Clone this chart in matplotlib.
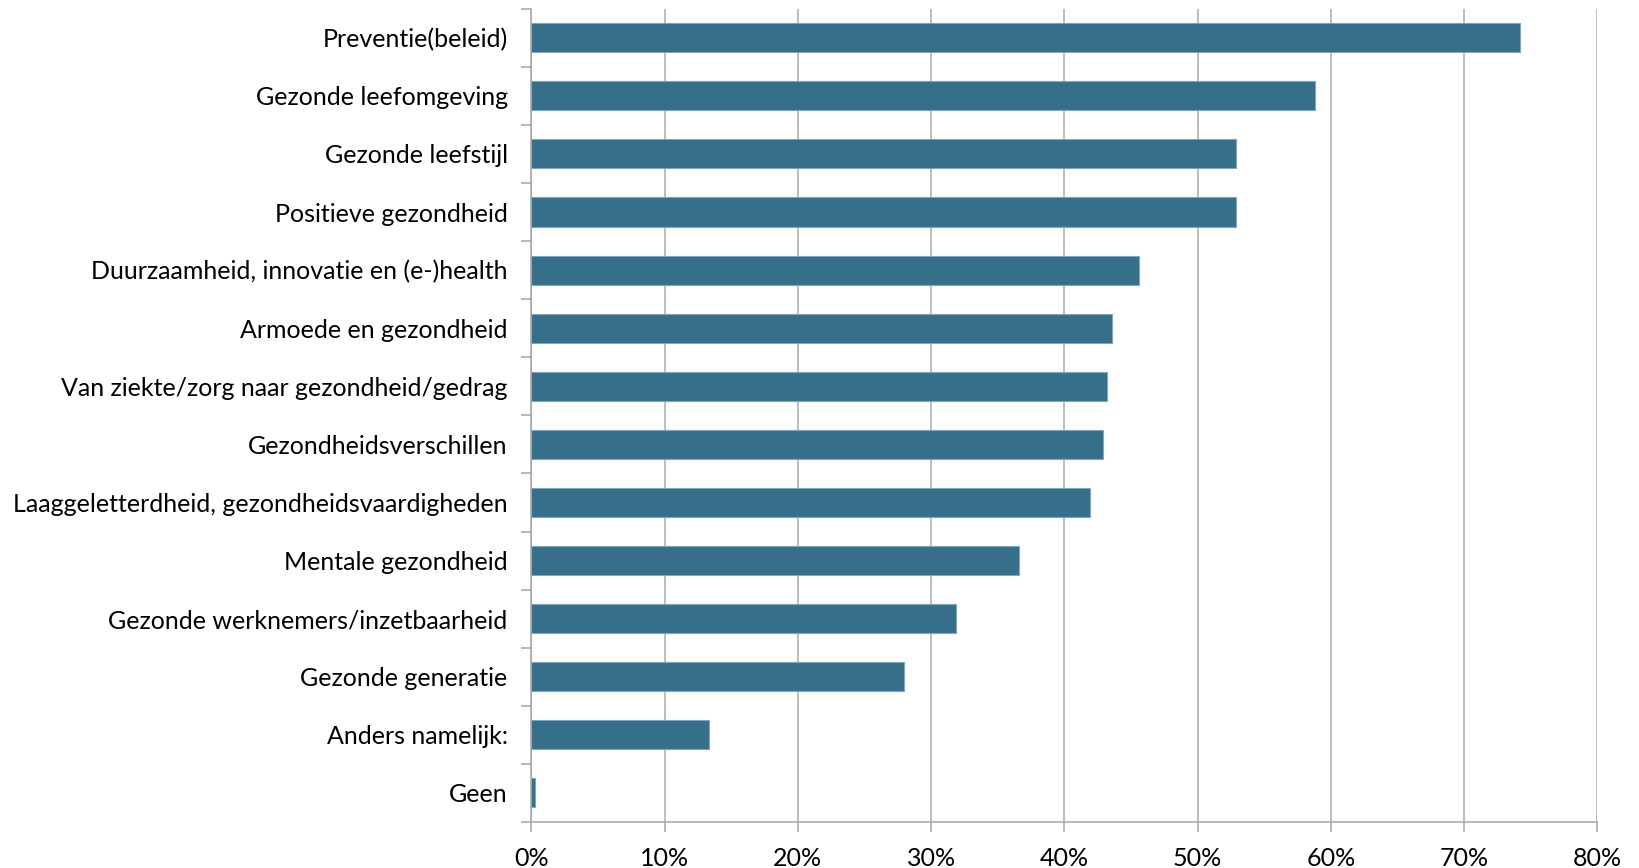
import numpy as np
import matplotlib
matplotlib.use("Agg")
import matplotlib.pyplot as plt
from matplotlib.ticker import FixedLocator, PercentFormatter

# data (percent)
categories = ['Preventie(beleid)', 'Gezonde leefomgeving', 'Gezonde leefstijl',
              'Positieve gezondheid', 'Duurzaamheid, innovatie en (e-)health',
              'Armoede en gezondheid', 'Van ziekte/zorg naar gezondheid/gedrag',
              'Gezondheidsverschillen', 'Laaggeletterdheid, gezondheidsvaardigheden',
              'Mentale gezondheid', 'Gezonde werknemers/inzetbaarheid',
              'Gezonde generatie', 'Anders namelijk:', 'Geen']
values = [74.2, 58.8, 52.9, 52.9, 45.6, 43.6, 43.2, 42.9, 41.9, 36.6, 31.9, 28.0, 13.3, 0.3]
xticks = [0, 10, 20, 30, 40, 50, 60, 70, 80]

plt.rcParams['font.family'] = ['Lato', 'DejaVu Sans']

fig = plt.figure(figsize=(16.4, 8.68), dpi=100)
ax = fig.add_axes([0.324, 0.053, 0.650, 0.937])

y = np.arange(len(categories))
ax.barh(y, values, height=0.5, color='#376f8b', edgecolor='#7fa6bb', linewidth=0.8, zorder=3)

ax.set_ylim(len(categories) - 0.5, -0.5)
ax.set_xlim(0, 80)
ax.set_xticks(xticks)
ax.xaxis.set_major_formatter(PercentFormatter(decimals=0))
ax.set_yticks(y)
ax.set_yticklabels(categories)
ax.yaxis.set_minor_locator(FixedLocator(np.arange(-0.5, len(categories), 1)))

ax.grid(axis='x', color='#ababab', linewidth=1.1, zorder=0)
for s in ['top', 'right']:
    ax.spines[s].set_visible(False)
for s in ['left', 'bottom']:
    ax.spines[s].set_color('#a6a6a6')
    ax.spines[s].set_linewidth(1.1)

ax.tick_params(axis='y', which='major', length=0, pad=17, labelsize=18)
ax.tick_params(axis='y', which='minor', length=7, color='#a6a6a6', width=1.1)
ax.tick_params(axis='x', length=7, color='#a6a6a6', width=1.1, pad=11, labelsize=18)

fig.savefig('out.png', dpi=100)
